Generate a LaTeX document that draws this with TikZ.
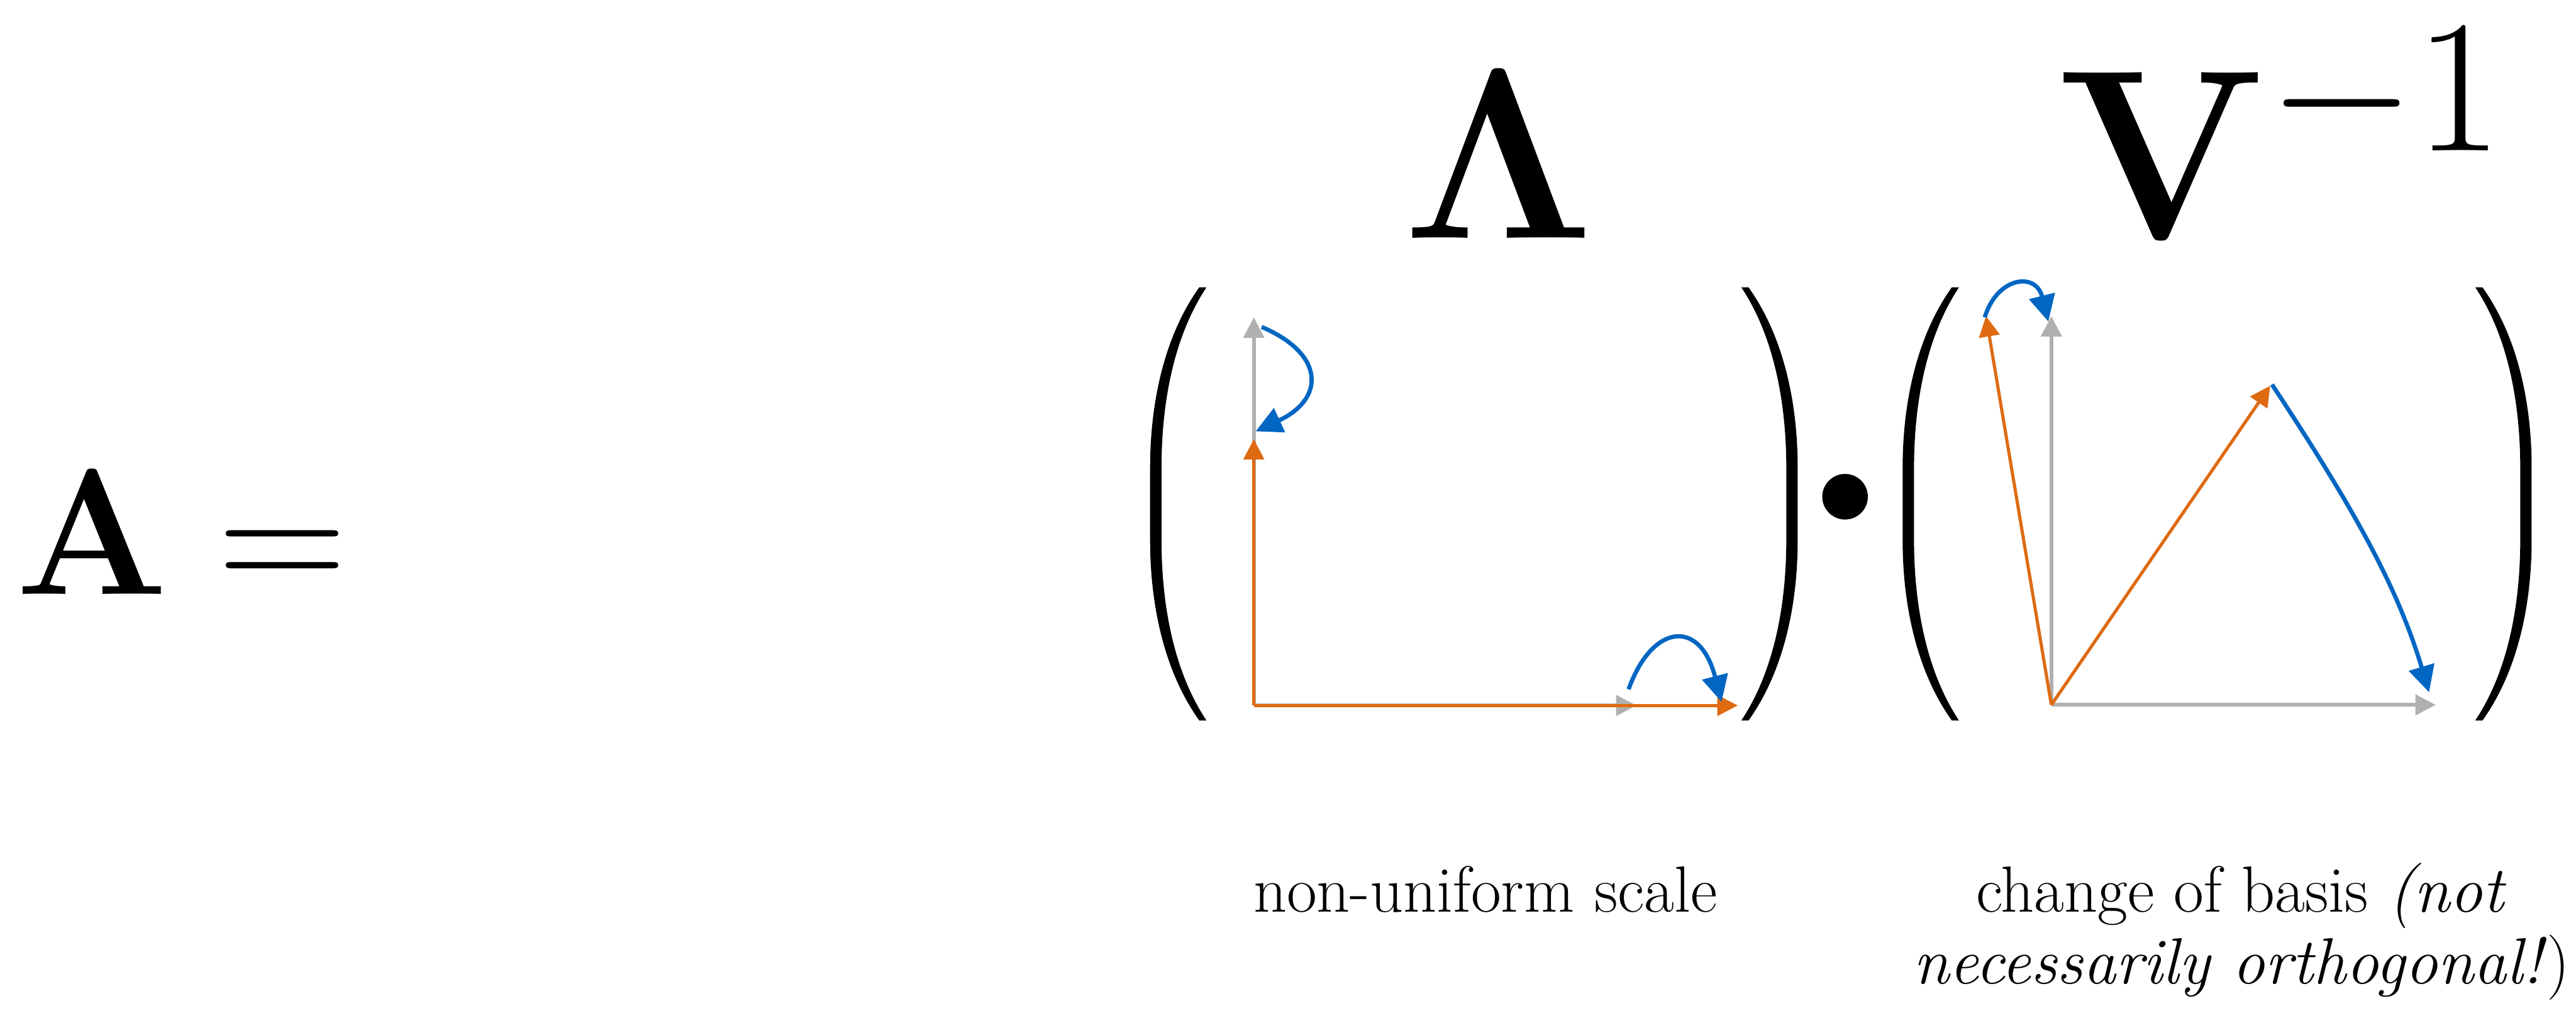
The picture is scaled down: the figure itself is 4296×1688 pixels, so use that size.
\RequirePackage{fix-cm}
\documentclass[tikz,border=0pt]{standalone}
\usepackage{xcolor}
\usepackage{tikz}
\usetikzlibrary{arrows.meta, calc}
\definecolor{vecorange}{HTML}{DE6A12}
\definecolor{vecblue}{HTML}{0066C2}
\definecolor{vecgray}{HTML}{B0B0B0}

\tikzset{
    greyvec/.style={draw=vecgray, line width=1.7pt, -{Triangle[length=3.4mm, width=3.4mm]}},
    orangevec/.style={draw=vecorange, line width=1.5pt, -{Triangle[length=3.4mm, width=3.4mm]}},
    bluemove/.style={draw=vecblue, line width=2pt, -{Triangle[length=4.4mm, width=4.3mm]}},
    bigsym/.style={inner sep=0pt, anchor=base, font=\fontsize{115}{115}\selectfont},
    caption/.style={inner sep=0pt, anchor=base, align=center, font=\fontsize{31}{34}\selectfont},
    % one big round bracket, tips at x=0
    lpar/.pic={
        \fill (-12,-361) .. controls (-70,-280) and (-94,-170) .. (-94,-60)
            -- (-94,60) .. controls (-94,170) and (-70,280) .. (-12,361)
            -- (0,361) .. controls (-54,280) and (-75,170) .. (-75,60)
            -- (-75,-60) .. controls (-75,-170) and (-54,-280) .. (0,-361) -- cycle;
    }
}

\begin{document}
\begin{tikzpicture}[x=0.1mm, y=-0.1mm]
    \useasboundingbox (0,0) rectangle (4296,1688);

    \node[bigsym, anchor=base west, font=\fontsize{85}{85}\selectfont] (lhs) at (26,991) {$\mathbf{A} =$};
    \node[bigsym] (lam) at (2500,397) {$\mathbf{\Lambda}$};
    \node[bigsym, anchor=base west] (vinv) at (3432,398)
        {$\mathbf{V}^{\mbox{\fontsize{90}{90}\selectfont$-1$}}$};

    % brackets and product dot
    \pic at (2012,840) {lpar};
    \pic[xscale=-1] at (2904,840) {lpar};
    \pic at (3267,840) {lpar};
    \pic[xscale=-1] at (4128,840) {lpar};
    \node[circle, fill=black, inner sep=0pt, minimum size=7.6mm] (dot) at (3077,828) {};

    % scale
    \coordinate (o1) at (2091,1176);
    \coordinate (e1x) at (2729,1176);
    \coordinate (e1y) at (2091,529);
    \coordinate (s1x) at (2898,1176);
    \coordinate (s1y) at (2091,732);
    \draw[greyvec] (o1) -- (e1x);
    \draw[greyvec] (o1) -- (e1y);
    \draw[orangevec] (o1) -- (s1x);
    \draw[orangevec] (o1) -- (s1y);
    \draw[bluemove] ($(e1y)+(13,16)$) .. controls +(106,45) and +(116,-54) .. ($(s1y)+(3,-13)$);
    \draw[bluemove] ($(e1x)+(-13,-27)$) .. controls +(39,-109) and +(-36,-140) .. ($(s1x)+(-27,-6)$);

    % change of basis
    \coordinate (o2) at (3421,1175);
    \coordinate (e2x) at (4062,1175);
    \coordinate (e2y) at (3421,527);
    \coordinate (v2a) at (3312,527);
    \coordinate (v2b) at (3786,643);
    \draw[greyvec] (o2) -- (e2x);
    \draw[greyvec] (o2) -- (e2y);
    \draw[orangevec] (o2) -- (v2a);
    \draw[orangevec] (o2) -- (v2b);
    \draw[bluemove] ($(v2a)+(-2,2)$) .. controls +(20,-67) and +(-21,-84) .. ($(e2y)+(-5,9)$);
    \draw[bluemove] ($(v2b)+(3,-2)$) .. controls +(132,200) and +(-54,-180) .. ($(e2x)+(-11,-21)$);

    \node[caption] (scalecap) at (2477,1520) {non-uniform scale};
    \node[caption] (basiscap) at (3738,1640) {change of basis \textit{(not}\\\textit{necessarily orthogonal!})};
\end{tikzpicture}
\end{document}
